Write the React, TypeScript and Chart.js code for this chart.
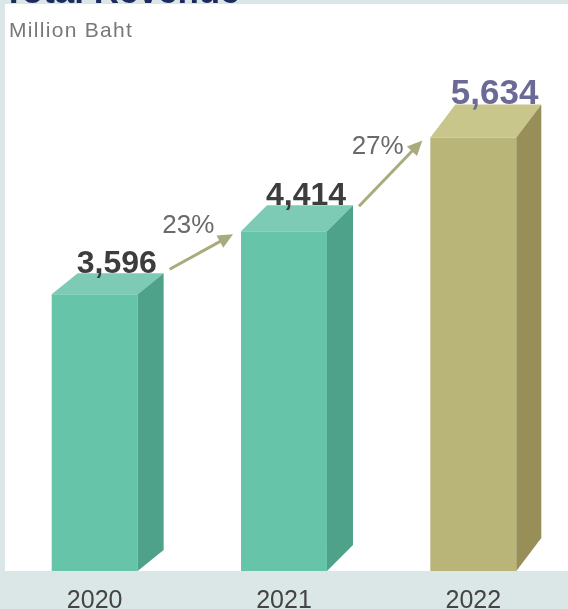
import React, { useEffect, useRef } from "react";
import { Chart, registerables } from "chart.js";

Chart.register(...registerables);

const years = ["2020", "2021", "2022"];
const revenue = [3596, 4414, 5634];
const valueLabels = ["3,596", "4,414", "5,634"];
const growthLabels = ["23%", "27%"];
const titleText = "Total Revenue";
const unitText = "Million Baht";
const yMax = 7420;

const FRONT = ["#66c4a9", "#66c4a9", "#b9b477"];
const TOP = ["#7ecbb5", "#7ecbb5", "#c9c68b"];
const SIDE = ["#4ea289", "#4ea289", "#988f58"];
const DEPTH_X = [26, 26, 25];
const DEPTH_Y = [21, 26, 33];
const LABEL_COLORS = ["#3d3d3d", "#3d3d3d", "#6b6a96"];
const LABEL_SIZES = [32, 32, 35];
const FONT = "'Liberation Sans', Arial, Helvetica, sans-serif";

const decoPlugin = {
  id: "deco3d",
  beforeDraw(chart: any) {
    const { ctx, width, height, chartArea } = chart;
    ctx.save();
    ctx.fillStyle = "#dae7e6";
    ctx.fillRect(0, 0, width, height);
    ctx.fillStyle = "#ffffff";
    ctx.fillRect(5, 4, width - 5, chartArea.bottom - 4);
    ctx.fillStyle = "#1c2b5e";
    ctx.font = `bold 35px ${FONT}`;
    ctx.textAlign = "left";
    ctx.textBaseline = "alphabetic";
    ctx.fillText(titleText, 3, 3);
    ctx.fillStyle = "#787878";
    ctx.font = `21px ${FONT}`;
    (ctx as any).letterSpacing = "1.3px";
    ctx.fillText(unitText, 9, 37);
    (ctx as any).letterSpacing = "0px";
    ctx.restore();
  },
  afterDatasetsDraw(chart: any) {
    const { ctx } = chart;
    const els = chart.getDatasetMeta(0).data;
    ctx.save();
    els.forEach((el: any, i: number) => {
      const { x, y, base, width } = el.getProps(["x", "y", "base", "width"], true);
      const l = x - width / 2;
      const r = x + width / 2;
      const dx = DEPTH_X[i];
      const dy = DEPTH_Y[i];
      ctx.fillStyle = TOP[i];
      ctx.beginPath();
      ctx.moveTo(l, y);
      ctx.lineTo(l + dx, y - dy);
      ctx.lineTo(r + dx, y - dy);
      ctx.lineTo(r, y);
      ctx.closePath();
      ctx.fill();
      ctx.fillStyle = SIDE[i];
      ctx.beginPath();
      ctx.moveTo(r, y);
      ctx.lineTo(r + dx, y - dy);
      ctx.lineTo(r + dx, base - dy);
      ctx.lineTo(r, base);
      ctx.closePath();
      ctx.fill();
      ctx.fillStyle = LABEL_COLORS[i];
      ctx.font = `bold ${LABEL_SIZES[i]}px ${FONT}`;
      ctx.textAlign = "center";
      ctx.textBaseline = "alphabetic";
      ctx.fillText(valueLabels[i], x + dx * 0.85, y - dy);
    });
    for (let i = 0; i < els.length - 1; i++) {
      const p = els[i].getProps(["x", "y", "width"], true);
      const n = els[i + 1].getProps(["x", "y", "width"], true);
      const sx = p.x + p.width / 2 + DEPTH_X[i] + 6;
      const sy = p.y - 25;
      const ex = n.x - n.width / 2 - 8;
      const ey = n.y + 3;
      const ang = Math.atan2(ey - sy, ex - sx);
      const hl = 15;
      const hw = 7;
      const bx = ex - hl * Math.cos(ang);
      const by = ey - hl * Math.sin(ang);
      ctx.strokeStyle = "#a9ab7c";
      ctx.fillStyle = "#a9ab7c";
      ctx.lineWidth = 3;
      ctx.beginPath();
      ctx.moveTo(sx, sy);
      ctx.lineTo(bx + 2 * Math.cos(ang), by + 2 * Math.sin(ang));
      ctx.stroke();
      ctx.beginPath();
      ctx.moveTo(ex, ey);
      ctx.lineTo(bx + hw * Math.sin(ang), by - hw * Math.cos(ang));
      ctx.lineTo(bx - hw * Math.sin(ang), by + hw * Math.cos(ang));
      ctx.closePath();
      ctx.fill();
      ctx.fillStyle = "#6a6a6a";
      ctx.font = `26px ${FONT}`;
      ctx.textAlign = "center";
      ctx.textBaseline = "alphabetic";
      ctx.fillText(growthLabels[i], (sx + ex) / 2 - 13, (sy + ey) / 2 - 19);
    }
    ctx.restore();
  },
};

export default function App() {
  const ref = useRef<HTMLCanvasElement | null>(null);
  useEffect(() => {
    if (!ref.current) return;
    const chart = new Chart(ref.current, {
      type: "bar",
      data: {
        labels: years,
        datasets: [
          {
            data: revenue,
            backgroundColor: FRONT,
            borderWidth: 0,
            barPercentage: 0.454,
            categoryPercentage: 1,
          },
        ],
      },
      options: {
        responsive: false,
        animation: false,
        devicePixelRatio: 1,
        layout: { padding: 0 },
        plugins: { legend: { display: false }, tooltip: { enabled: false } },
        scales: {
          x: {
            grid: { display: false, drawTicks: false },
            border: { display: false },
            ticks: {
              color: "#444444",
              font: { size: 25, family: FONT },
              padding: 15,
            },
          },
          y: { display: false, min: 0, max: yMax },
        },
      },
      plugins: [decoPlugin],
    });
    return () => chart.destroy();
  }, []);
  return (
    <div style={{ position: "absolute", left: 0, top: 0, width: 568, height: 609, overflow: "hidden" }}>
      <canvas ref={ref} width={568} height={631} style={{ display: "block" }} />
    </div>
  );
}
